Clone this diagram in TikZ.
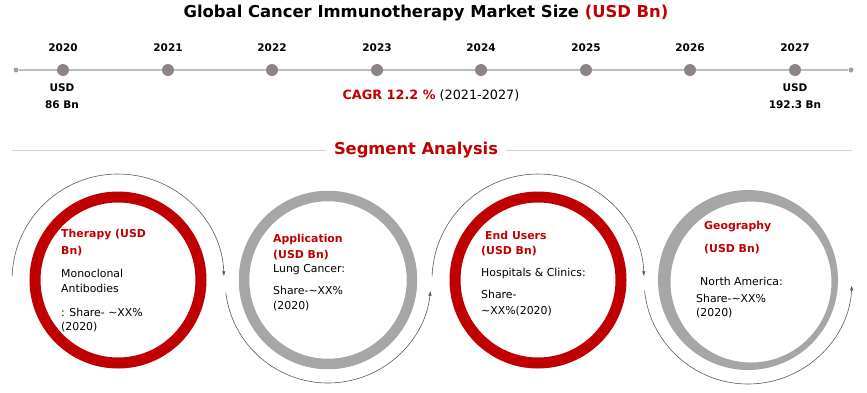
\documentclass[tikz,border=0pt]{standalone}
\usepackage{fontspec}
\setmainfont{DejaVu Sans}
\usetikzlibrary{arrows.meta,calc}
\definecolor{dred}{RGB}{192,0,0}
\definecolor{ringgray}{RGB}{166,166,166}
\definecolor{dotgray}{RGB}{142,132,132}
\definecolor{linegray}{RGB}{190,190,190}
\definecolor{arcgray}{RGB}{90,90,90}
\tikzset{
  bigdot/.style={circle, fill=dotgray, inner sep=0pt, minimum size=12pt},
  enddot/.style={circle, fill=dotgray!80, inner sep=0pt, minimum size=5pt},
  yearlbl/.style={font=\bfseries\fontsize{10.5}{13}\selectfont, inner sep=0pt},
  vallbl/.style={font=\bfseries\fontsize{10.5}{13}\selectfont, inner sep=0pt},
  redring/.style={circle, draw=dred, line width=11pt, inner sep=0pt, minimum size=166pt},
  grayring/.style={circle, draw=ringgray, line width=10.5pt, inner sep=0pt, minimum size=168pt},
  head/.style={font=\bfseries\fontsize{10.9}{13}\selectfont, text=dred, anchor=west, inner sep=0pt},
  body/.style={font=\fontsize{10.9}{13}\selectfont, anchor=west, inner sep=0pt},
  arcline/.style={draw=arcgray, line width=0.6pt, -{Latex[length=5pt,width=3.5pt]}},
}
\begin{document}
\begin{tikzpicture}[x=1pt,y=-1pt]
\useasboundingbox (0,0) rectangle (867,392);
% title
\node[font=\bfseries\fontsize{16.4}{19}\selectfont, inner sep=0pt] (title) at (426,13)
  {Global Cancer Immunotherapy Market Size \textcolor{dred}{(USD Bn)}};
% timeline
\node[enddot] (e0) at (16,70) {};
\node[enddot] (e1) at (851,70) {};
\draw[linegray, line width=1.2pt] (e0) -- (e1);
\foreach \x/\y [count=\i] in {63/2020,168/2021,272/2022,377/2023,481/2024,586/2025,690/2026,795/2027}{
  \node[bigdot] (d\i) at (\x,70) {};
  \node[yearlbl] (y\i) at (\x,48) {\y};
}
\node[vallbl] (v1a) at (62,88) {USD};
\node[vallbl] (v1b) at (62,105) {86 Bn};
\node[vallbl] (v8a) at (795,88) {USD};
\node[vallbl] (v8b) at (795,105) {192.3 Bn};
\node[font=\fontsize{12.8}{15}\selectfont, inner sep=0pt] (cagr) at (431,95)
  {\textcolor{dred}{\bfseries CAGR 12.2 \%} (2021-2027)};
% segment analysis
\node[font=\bfseries\fontsize{16.3}{19}\selectfont, text=dred, inner sep=0pt] (seg) at (416,150) {Segment Analysis};
\coordinate (sl) at (12,150);
\coordinate (sr) at (852,150);
\draw[linegray!70, line width=0.8pt] (sl) -- ([xshift=-8pt]seg.west);
\draw[linegray!70, line width=0.8pt] ([xshift=8pt]seg.east) -- (sr);
% rings
\node[redring] (c1) at (118,280) {};
\node[grayring] (c2) at (328,280) {};
\node[redring] (c3) at (538,280) {};
\coordinate (c4) at (748,280);
\coordinate (c4i) at (751,282);
\fill[ringgray, even odd rule] (c4) circle[radius=90pt] (c4i) circle[radius=80.5pt];
% arcs
\draw[arcline] ($(c1)+(178:106pt)$) arc[start angle=178, end angle=2, radius=106pt];
\draw[arcline] ($(c2)+(187:103pt)$) arc[start angle=187, end angle=354, radius=103pt];
\draw[arcline] ($(c3)+(178:106pt)$) arc[start angle=178, end angle=2, radius=106pt];
\draw[arcline] ($(c4)+(186:104pt)$) arc[start angle=186, end angle=357, radius=104pt];
% texts circle 1
\node[head] (t1a) at (61,235) {Therapy (USD};
\node[head] (t1b) at (61,251) {Bn)};
\node[body] (t1c) at (61,273) {Monoclonal};
\node[body] (t1d) at (61,288) {Antibodies};
\node[body] (t1e) at (61,312) {: Share- \textasciitilde XX\%};
\node[body] (t1f) at (61,327) {(2020)};
% circle 2
\node[head] (t2a) at (273,239) {Application};
\node[head] (t2b) at (273,255) {(USD Bn)};
\node[body] (t2c) at (273,270) {Lung Cancer:};
\node[body] (t2d) at (273,290) {Share-\textasciitilde XX\%};
\node[body] (t2e) at (273,306) {(2020)};
% circle 3
\node[head] (t3a) at (485,235) {End Users};
\node[head] (t3b) at (481,251) {(USD Bn)};
\node[body] (t3c) at (481,273) {Hospitals \& Clinics:};
\node[body] (t3d) at (481,294) {Share-};
\node[body] (t3e) at (481,311) {\textasciitilde XX\%(2020)};
% circle 4
\node[head] (t4a) at (704,227) {Geography};
\node[head] (t4b) at (704,249) {(USD Bn)};
\node[body] (t4c) at (700,281) {North America:};
\node[body] (t4d) at (696,298) {Share-\textasciitilde XX\%};
\node[body] (t4e) at (696,313) {(2020)};
\end{tikzpicture}
\end{document}
